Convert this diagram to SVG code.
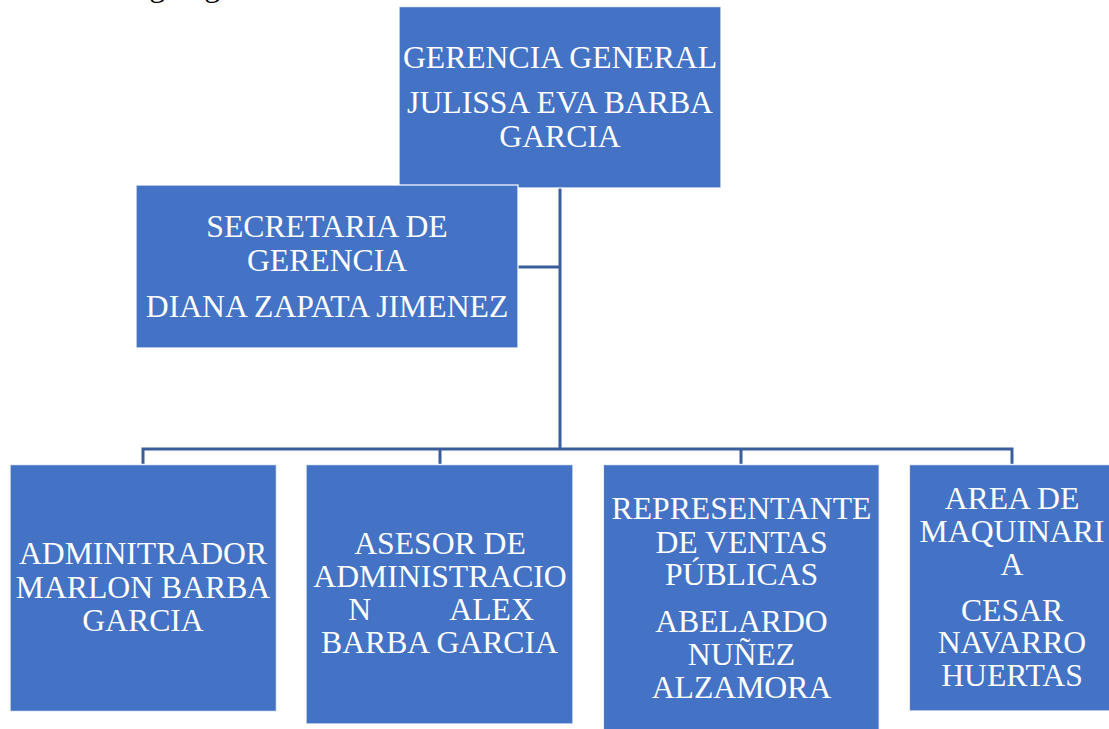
<svg xmlns="http://www.w3.org/2000/svg" width="1109" height="729" viewBox="0 0 1109 729">
<style>
.box{fill:#4472C4;stroke:#ffffff;stroke-width:1.5;stroke-opacity:0.8}
.t{font-family:"Liberation Serif","Times New Roman",serif;font-size:31.7px;fill:#ffffff;text-anchor:middle}
.s{text-anchor:start}
.conn{fill:none;stroke:#3A5D9C;stroke-width:3}
</style>
<rect width="1109" height="729" fill="#ffffff"/>
<text x="116" y="-4" style="font-family:'Liberation Serif','Times New Roman',serif;font-size:32px;fill:#000000">Organigrama</text>
<g id="connectors">
<path class="conn" d="M560,188 V449"/>
<path class="conn" d="M518,267 H560"/>
<path class="conn" d="M143,464 V449 H1012 V464"/>
<path class="conn" d="M440,449 V464"/>
<path class="conn" d="M741,449 V464"/>
</g>
<g id="gerencia">
<rect class="box" x="399" y="6.5" width="322" height="181.5"/>
<text class="t" x="560" y="67.7">GERENCIA GENERAL</text>
<text class="t" x="560" y="112.7">JULISSA EVA BARBA</text>
<text class="t" x="560" y="146.7">GARCIA</text>
</g>
<g id="secretaria">
<rect class="box" x="136" y="185" width="382" height="163"/>
<text class="t" x="327" y="237.3">SECRETARIA DE</text>
<text class="t" x="327" y="270.7">GERENCIA</text>
<text class="t" x="327" y="316.7">DIANA ZAPATA JIMENEZ</text>
</g>
<g id="administrador">
<rect class="box" x="10" y="464.5" width="266.5" height="247"/>
<text class="t" x="143" y="564.3">ADMINITRADOR</text>
<text class="t" x="143" y="597.7">MARLON BARBA</text>
<text class="t" x="143" y="631">GARCIA</text>
</g>
<g id="asesor">
<rect class="box" x="306" y="464.5" width="267" height="259.5"/>
<text class="t" x="440" y="554.3">ASESOR DE</text>
<text class="t" x="440" y="587.3">ADMINISTRACIO</text>
<text class="t s" x="348.3" y="620">N</text>
<text class="t s" x="449.3" y="620">ALEX</text>
<text class="t" x="439.5" y="653.3">BARBA GARCIA</text>
</g>
<g id="representante">
<rect class="box" x="603.3" y="464.5" width="276" height="280"/>
<text class="t" x="741.5" y="519">REPRESENTANTE</text>
<text class="t" x="741.5" y="552.7">DE VENTAS</text>
<text class="t" x="741.5" y="585.3">PÚBLICAS</text>
<text class="t" x="741.5" y="632.3">ABELARDO</text>
<text class="t" x="741.5" y="665">NUÑEZ</text>
<text class="t" x="741.5" y="698.3">ALZAMORA</text>
</g>
<g id="maquinaria">
<rect class="box" x="909.3" y="464.5" width="205" height="246.5"/>
<text class="t" x="1012" y="508.7">AREA DE</text>
<text class="t" x="1012" y="541.7">MAQUINARI</text>
<text class="t" x="1012" y="575">A</text>
<text class="t" x="1012" y="620.7">CESAR</text>
<text class="t" x="1012" y="653.3">NAVARRO</text>
<text class="t" x="1012" y="686">HUERTAS</text>
</g>
</svg>
